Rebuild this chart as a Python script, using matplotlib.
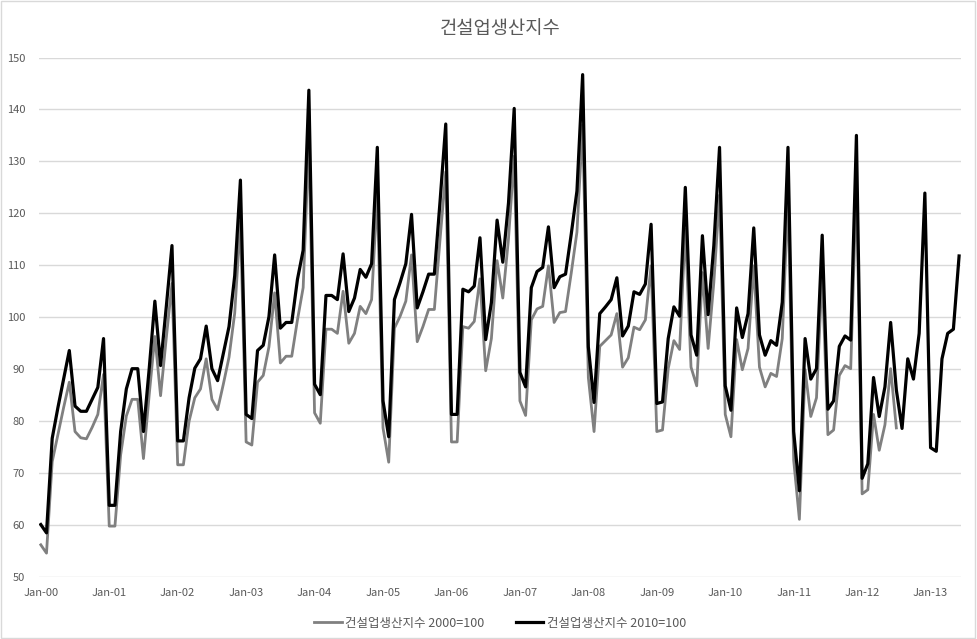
import matplotlib
matplotlib.use('Agg')
import matplotlib.pyplot as plt
import numpy as np
from matplotlib.patches import Rectangle

plt.rcParams['font.family'] = ['Noto Sans CJK KR', 'DejaVu Sans']

title = '건설업생산지수'
label_2000 = '건설업생산지수 2000=100'
label_2010 = '건설업생산지수 2010=100'
years = ['00', '01', '02', '03', '04', '05', '06', '07', '08', '09', '10', '11', '12', '13']

# monthly index, Jan-00 .. Jul-12 (base 2000=100)
idx_2000 = [
    56.2, 54.6, 72.2, 77.4, 82.6, 87.5, 78.0, 76.8, 76.6, 78.8, 81.3, 89.0,
    59.8, 59.8, 73.5, 81.0, 84.2, 84.2, 72.8, 85.0, 96.3, 84.9, 96.0, 106.5,
    71.6, 71.6, 80.0, 84.5, 86.2, 92.0, 84.2, 82.2, 87.1, 92.3, 100.8, 118.5,
    76.0, 75.4, 87.5, 88.8, 94.3, 104.7, 91.2, 92.5, 92.5, 99.5, 105.7, 134.0,
    81.6, 79.6, 97.7, 97.7, 96.9, 105.0, 95.0, 96.9, 102.1, 100.7, 103.4, 124.0,
    78.7, 72.1, 97.9, 100.2, 103.1, 112.0, 95.3, 98.2, 101.5, 101.5, 115.0, 128.0,
    76.0, 76.0, 98.2, 97.9, 99.2, 107.4, 89.7, 95.9, 110.9, 103.7, 115.1, 131.0,
    83.9, 81.1, 99.5, 101.6, 102.1, 109.9, 99.0, 100.9, 101.1, 108.5, 116.4, 137.0,
    88.4, 78.0, 94.4, 95.5, 96.6, 100.7, 90.4, 92.2, 98.1, 97.6, 99.5, 109.9,
    78.0, 78.3, 90.1, 95.5, 93.8, 117.0, 90.4, 86.8, 108.6, 94.0, 106.7, 123.5,
    81.3, 77.0, 95.7, 89.9, 94.0, 109.9, 90.4, 86.6, 89.2, 88.6, 95.9, 123.5,
    72.5, 61.1, 89.9, 80.9, 84.5, 108.6, 77.4, 78.3, 88.8, 90.7, 90.1, 126.0,
    66.0, 66.8, 81.3, 74.4, 79.3, 90.1, 78.7,
]

# monthly index, Jan-00 .. Jun-13 (base 2010=100)
idx_2010 = [
    60.1, 58.5, 76.7, 82.6, 88.1, 93.6, 82.9, 81.9, 81.9, 84.2, 86.5, 95.9,
    63.8, 63.8, 78.0, 86.2, 90.1, 90.1, 78.0, 90.0, 103.1, 90.7, 102.0, 113.8,
    76.2, 76.2, 84.5, 90.2, 92.0, 98.3, 90.1, 87.8, 93.0, 98.2, 108.0, 126.4,
    81.3, 80.5, 93.6, 94.6, 100.1, 112.0, 97.9, 99.0, 99.0, 107.3, 112.9, 143.7,
    87.1, 85.1, 104.2, 104.2, 103.4, 112.2, 101.1, 103.7, 109.2, 107.7, 110.3, 132.7,
    83.9, 77.0, 103.4, 106.7, 110.3, 119.8, 101.8, 104.9, 108.3, 108.3, 122.3, 137.2,
    81.3, 81.3, 105.4, 104.9, 106.0, 115.3, 95.7, 102.8, 118.7, 110.6, 122.0, 140.2,
    89.4, 86.6, 105.7, 108.8, 109.6, 117.4, 105.7, 107.8, 108.3, 116.0, 124.3, 146.7,
    94.3, 83.6, 100.7, 102.0, 103.4, 107.6, 96.4, 98.3, 104.9, 104.4, 106.4, 117.9,
    83.4, 83.7, 95.9, 102.0, 100.2, 125.0, 96.6, 92.7, 115.7, 100.5, 113.8, 132.7,
    86.8, 82.1, 101.8, 96.1, 100.7, 117.2, 96.6, 92.7, 95.5, 94.6, 102.9, 132.7,
    78.0, 66.6, 95.9, 88.1, 90.1, 115.8, 82.3, 83.9, 94.4, 96.4, 95.6, 135.0,
    69.0, 71.8, 88.4, 80.9, 86.6, 99.0, 86.0, 78.6, 92.0, 88.1, 96.9, 123.9,
    74.9, 74.2, 92.0, 96.9, 97.7, 111.8,
]

fig = plt.figure(figsize=(9.77, 6.39), dpi=100)
ax = fig.add_axes([0.040, 0.097, 0.944, 0.813])

ax.plot(np.arange(len(idx_2000)), idx_2000, color='#808080', linewidth=2.0, label=label_2000)
ax.plot(np.arange(len(idx_2010)), idx_2010, color='black', linewidth=2.3, label=label_2010)

ax.set_xlim(-0.3, len(idx_2010) - 0.6)
ax.set_ylim(50, 150)
ax.set_yticks(np.arange(50, 151, 10))
ax.set_xticks(np.arange(len(years)) * 12)
ax.set_xticklabels(['Jan-' + y for y in years])
ax.grid(axis='y', color='#d9d9d9', linewidth=1)
ax.set_axisbelow(True)
for s in ax.spines.values():
    s.set_visible(False)
ax.tick_params(length=0, labelsize=8, colors='#595959', pad=8)
ax.tick_params(axis='y', pad=10)

ax.set_title(title, fontsize=13.5, color='#595959', pad=17)

leg = ax.legend(loc='upper center', bbox_to_anchor=(0.5, -0.055), ncol=2, frameon=False,
                fontsize=9, handlelength=2.2, columnspacing=2.5, handletextpad=0.3)
for t in leg.get_texts():
    t.set_color('#595959')

fig.patches.append(Rectangle((0.001, 0.002), 0.997, 0.996, transform=fig.transFigure,
                             fill=False, edgecolor='#d9d9d9', linewidth=1))

fig.savefig('out.png', dpi=100)
